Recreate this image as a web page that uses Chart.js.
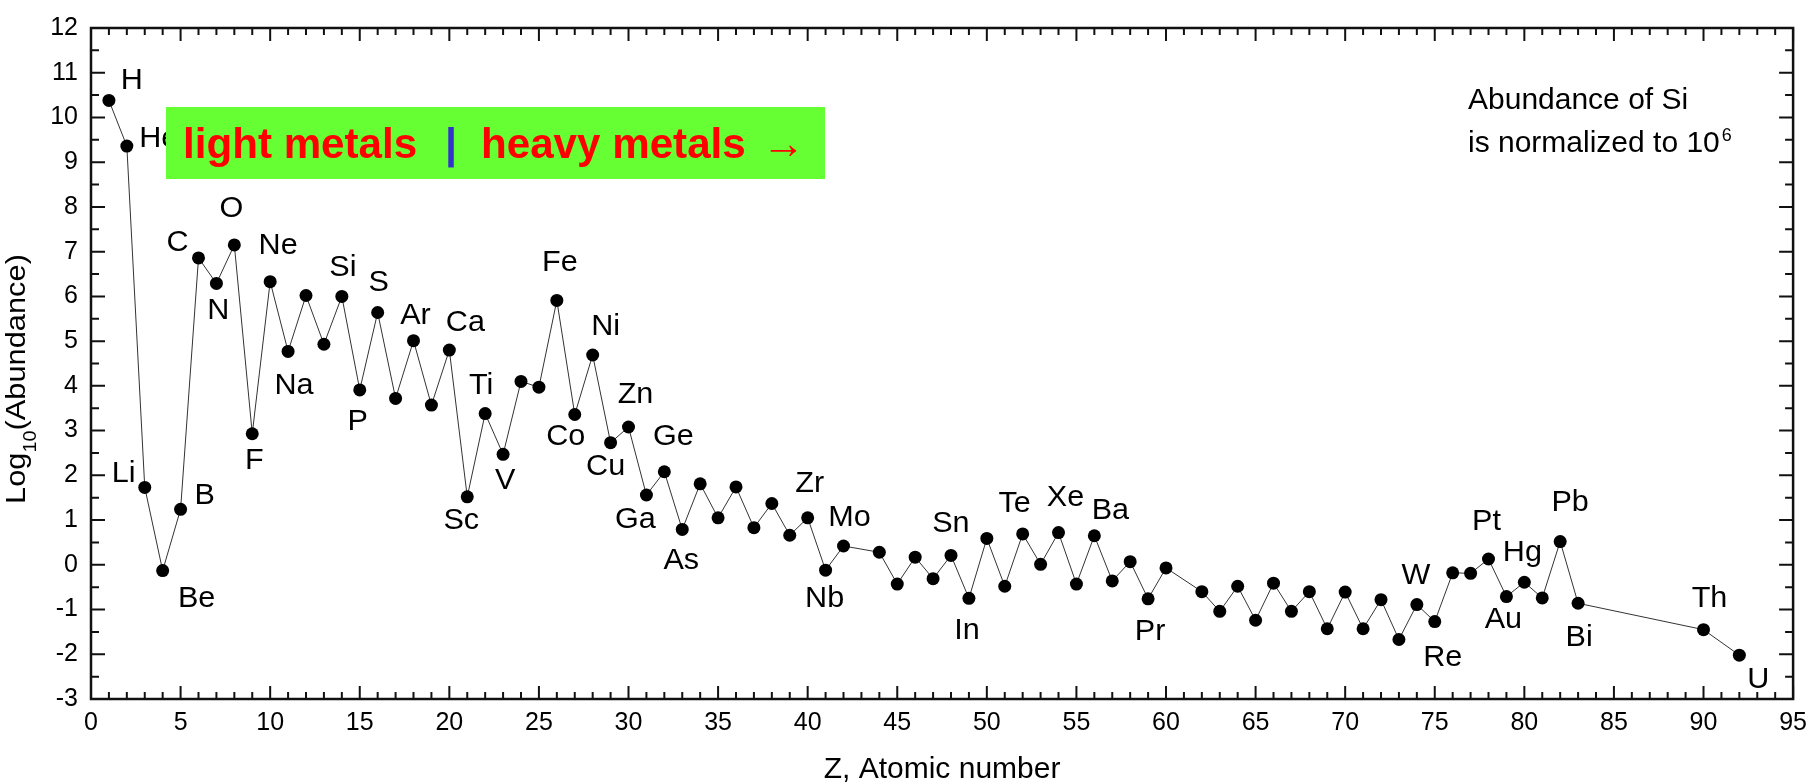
<!DOCTYPE html>
<html>
<head>
<meta charset="utf-8">
<title>Abundance of the elements</title>
<script src="https://cdn.jsdelivr.net/npm/chart.js@4.4.0/dist/chart.umd.min.js"></script>
<style>
  html, body { margin: 0; padding: 0; background: #fff; }
  #wrap { width: 1816px; height: 784px; }
</style>
</head>
<body>
<div id="wrap"><canvas id="abundance" width="1816" height="784"></canvas></div>
<script>
// Z of every plotted element (Tc, Pm and 84-89, 91 are missing)
const atomicNumbers = [
	1, 2, 3, 4, 5, 6, 7, 8, 9, 10, 11, 12, 13, 14, 15, 16, 17, 18, 19, 20,
	21, 22, 23, 24, 25, 26, 27, 28, 29, 30, 31, 32, 33, 34, 35, 36, 37, 38, 39, 40,
	41, 42, 44, 45, 46, 47, 48, 49, 50, 51, 52, 53, 54, 55, 56, 57, 58, 59, 60,
	62, 63, 64, 65, 66, 67, 68, 69, 70, 71, 72, 73, 74, 75, 76, 77, 78, 79, 80,
	81, 82, 83, 90, 92
];
const symbols = [
	'H', 'He', 'Li', 'Be', 'B', 'C', 'N', 'O', 'F', 'Ne', 'Na', 'Mg', 'Al', 'Si', 'P', 'S', 'Cl', 'Ar', 'K', 'Ca',
	'Sc', 'Ti', 'V', 'Cr', 'Mn', 'Fe', 'Co', 'Ni', 'Cu', 'Zn', 'Ga', 'Ge', 'As', 'Se', 'Br', 'Kr', 'Rb', 'Sr', 'Y', 'Zr',
	'Nb', 'Mo', 'Ru', 'Rh', 'Pd', 'Ag', 'Cd', 'In', 'Sn', 'Sb', 'Te', 'I', 'Xe', 'Cs', 'Ba', 'La', 'Ce', 'Pr', 'Nd',
	'Sm', 'Eu', 'Gd', 'Tb', 'Dy', 'Ho', 'Er', 'Tm', 'Yb', 'Lu', 'Hf', 'Ta', 'W', 'Re', 'Os', 'Ir', 'Pt', 'Au', 'Hg',
	'Tl', 'Pb', 'Bi', 'Th', 'U'
];
// log10 of abundance, Si = 10^6
const logAbundance = [
	10.38, 9.36, 1.73, -0.13, 1.24, 6.86, 6.29, 7.15, 2.93, 6.33, 4.77, 6.02, 4.93, 6.00, 3.91, 5.64, 3.72, 5.01, 3.57, 4.80,
	1.52, 3.38, 2.47, 4.10, 3.97, 5.91, 3.36, 4.69, 2.73, 3.08, 1.56, 2.08, 0.79, 1.81, 1.05, 1.74, 0.83, 1.37, 0.66, 1.05,
	-0.12, 0.42, 0.28, -0.43, 0.17, -0.31, 0.21, -0.75, 0.59, -0.48, 0.69, 0.01, 0.72, -0.43, 0.65, -0.36, 0.07, -0.76, -0.07,
	-0.60, -1.04, -0.48, -1.24, -0.41, -1.04, -0.60, -1.43, -0.61, -1.43, -0.78, -1.67, -0.89, -1.27, -0.18, -0.19, 0.13, -0.71, -0.39,
	-0.74, 0.52, -0.86, -1.45, -2.02
];
const xTickValues = [0, 5, 10, 15, 20, 25, 30, 35, 40, 45, 50, 55, 60, 65, 70, 75, 80, 85, 90, 95];
const yTickValues = [-3, -2, -1, 0, 1, 2, 3, 4, 5, 6, 7, 8, 9, 10, 11, 12];

// where each element name sits, in px from its dot
const labelOffsets = {
	H: [23, -20], He: [32, -7], Li: [-21, -14], Be: [34, 28], B: [24, -14], C: [-21, -15], N: [2, 27],
	O: [-3, -36], F: [2, 27], Ne: [8, -36], Na: [6, 34], Si: [1, -29], P: [-2, 32], S: [1, -30],
	Ar: [2, -25], Ca: [16, -27], Sc: [-6, 24], Ti: [-4, -28], V: [2, 26], Fe: [3, -38], Co: [-9, 22],
	Ni: [13, -28], Cu: [-5, 24], Zn: [7, -32], Ga: [-11, 25], Ge: [9, -35], As: [-1, 31], Zr: [2, -34],
	Nb: [-1, 29], Mo: [6, -28], Sn: [-36, -15], In: [-2, 32], Te: [-8, -30], Xe: [7, -35], Ba: [16, -25],
	Pr: [2, 33], W: [-1, -29], Re: [8, 36], Pt: [-2, -37], Au: [-3, 23], Hg: [-2, -30], Pb: [10, -39],
	Bi: [1, 34], Th: [6, -31], U: [19, 25]
};

const FONT = '"Liberation Sans", Arial, Helvetica, sans-serif';

function drawText(ctx, text, x, y, size, align, sx, weight) {
	ctx.save();
	ctx.font = `${weight || 'normal'} ${size}px ${FONT}`;
	ctx.translate(x, y);
	ctx.scale(sx, 1);
	ctx.textAlign = align;
	ctx.fillText(text, 0, 0);
	ctx.restore();
}

const axisFrame = {
	id: 'axisFrame',
	beforeDatasetsDraw(chart) {
		const { ctx, chartArea: a, scales: { x, y } } = chart;
		ctx.save();
		ctx.strokeStyle = '#111';
		ctx.lineWidth = 2;
		ctx.beginPath();
		for (let v = x.min; v <= x.max; v++) {
			const px = x.getPixelForValue(v);
			const len = v % 5 === 0 ? 13 : 7;
			ctx.moveTo(px, a.bottom); ctx.lineTo(px, a.bottom - len);
			ctx.moveTo(px, a.top); ctx.lineTo(px, a.top + len);
		}
		for (let v = y.min; v <= y.max; v += 0.5) {
			const py = y.getPixelForValue(v);
			const len = Number.isInteger(v) ? 14 : 8;
			ctx.moveTo(a.left, py); ctx.lineTo(a.left + len, py);
			ctx.moveTo(a.right, py); ctx.lineTo(a.right - len, py);
		}
		ctx.stroke();
		ctx.lineWidth = 2.5;
		ctx.strokeRect(a.left, a.top, a.right - a.left, a.bottom - a.top);
		ctx.restore();
	}
};

const elementLabels = {
	id: 'elementLabels',
	afterDatasetsDraw(chart) {
		const { ctx, scales: { x, y } } = chart;
		ctx.save();
		ctx.fillStyle = '#000';
		ctx.textBaseline = 'middle';
		symbols.forEach((sym, i) => {
			const off = labelOffsets[sym];
			if (!off) return;
			const px = x.getPixelForValue(atomicNumbers[i]) + off[0];
			const py = y.getPixelForValue(logAbundance[i]) + off[1];
			drawText(ctx, sym, px, py, 30, 'center', 1.02);
		});
		ctx.restore();
	}
};

const annotations = {
	id: 'annotations',
	afterDraw(chart) {
		const { ctx, chartArea: a } = chart;
		ctx.save();
		ctx.fillStyle = '#000';
		ctx.textBaseline = 'alphabetic';

		// x title
		drawText(ctx, 'Z, Atomic number', (a.left + a.right) / 2, 778, 30, 'center', 1);

		// y title with subscript, reading upwards
		ctx.save();
		ctx.translate(25, 379);
		ctx.rotate(-Math.PI / 2);
		ctx.scale(1.1, 1);
		ctx.font = `28px ${FONT}`;
		const wLog = ctx.measureText('Log').width;
		const wRest = ctx.measureText('(Abundance)').width;
		ctx.font = `18px ${FONT}`;
		const wSub = ctx.measureText('10').width;
		let cx = -(wLog + wSub + wRest) / 2;
		ctx.textAlign = 'left';
		ctx.font = `28px ${FONT}`;
		ctx.fillText('Log', cx, 0);
		cx += wLog;
		ctx.font = `18px ${FONT}`;
		ctx.fillText('10', cx, 11);
		cx += wSub;
		ctx.font = `28px ${FONT}`;
		ctx.fillText('(Abundance)', cx, 0);
		ctx.restore();

		// note at top right
		drawText(ctx, 'Abundance of Si', 1468, 109, 30, 'left', 1);
		ctx.font = `30px ${FONT}`;
		const w2 = ctx.measureText('is normalized to 10').width;
		drawText(ctx, 'is normalized to 10', 1468, 152, 30, 'left', 1);
		drawText(ctx, '6', 1468 + w2 + 2, 141, 18, 'left', 1);

		// green banner
		ctx.fillStyle = '#66ff33';
		ctx.fillRect(166, 107, 659, 72);
		ctx.fillStyle = '#ff0000';
		drawText(ctx, 'light metals', 183, 158, 43, 'left', 0.98, 'bold');
		ctx.fillStyle = '#3333cc';
		drawText(ctx, '|', 451, 158, 43, 'center', 1, 'bold');
		ctx.fillStyle = '#ff0000';
		drawText(ctx, 'heavy metals', 481, 158, 43, 'left', 0.98, 'bold');
		drawText(ctx, '\u2192', 762, 158, 43, 'left', 1, 'normal');
		ctx.restore();
	}
};

const ctx = document.getElementById('abundance').getContext('2d');
new Chart(ctx, {
	type: 'scatter',
	data: {
		datasets: [{
			label: 'log10 abundance',
			data: atomicNumbers.map((z, i) => ({ x: z, y: logAbundance[i] })),
			showLine: true,
			borderColor: '#333',
			borderWidth: 1,
			pointRadius: 6.5,
			pointHoverRadius: 6.5,
			pointBackgroundColor: '#000',
			pointBorderWidth: 0
		}]
	},
	options: {
		responsive: false,
		animation: false,
		events: [],
		layout: { padding: { top: 15, right: 12, left: 0, bottom: 0 } },
		plugins: {
			legend: { display: false },
			tooltip: { enabled: false }
		},
		scales: {
			x: {
				type: 'linear',
				min: 0,
				max: 95,
				grid: { display: false, drawTicks: false },
				border: { display: false },
				afterBuildTicks: s => { s.ticks = xTickValues.map(v => ({ value: v })); },
				afterFit: s => { s.height = 85; },
				ticks: { color: '#000', padding: 9, maxRotation: 0, font: { family: FONT, size: 25 } }
			},
			y: {
				type: 'linear',
				min: -3,
				max: 12,
				grid: { display: false, drawTicks: false },
				border: { display: false },
				afterBuildTicks: s => { s.ticks = yTickValues.map(v => ({ value: v })); },
				afterFit: s => { s.width = 91; },
				ticks: { color: '#000', padding: 13, font: { family: FONT, size: 25 } }
			}
		}
	},
	plugins: [axisFrame, elementLabels, annotations]
});
</script>
</body>
</html>
